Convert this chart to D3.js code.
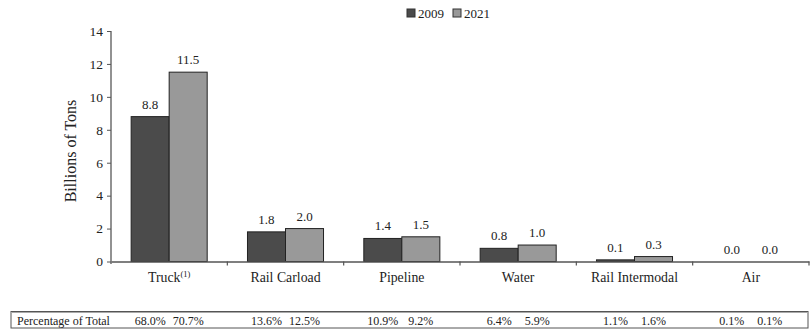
<!DOCTYPE html>
<html><head><meta charset="utf-8">
<script src="https://cdn.jsdelivr.net/npm/d3@7"></script>
<style>body{margin:0;background:#fff}svg{display:block}</style>
</head><body><svg id="c" width="810" height="329" font-family="Liberation Serif"></svg>
<script>
const categories = ["Truck", "Rail Carload", "Pipeline", "Water", "Rail Intermodal", "Air"];
const series = ["2009", "2021"];
const values2009 = [8.8, 1.8, 1.4, 0.8, 0.1, 0.0];
const values2021 = [11.5, 2.0, 1.5, 1.0, 0.3, 0.0];
const pct2009 = ["68.0%", "13.6%", "10.9%", "6.4%", "1.1%", "0.1%"];
const pct2021 = ["70.7%", "12.5%", "9.2%", "5.9%", "1.6%", "0.1%"];
const yTicks = [0, 2, 4, 6, 8, 10, 12, 14];
const colors = ["#4b4b4b", "#999999"];
const FONT = "Liberation Serif";
const INK = "#222";

const svg = d3.select("#c");
const x0 = d3.scaleBand().domain(categories).range([111, 809]).paddingInner(0).paddingOuter(0);
const x1 = d3.scaleBand().domain(series).range([0, x0.bandwidth()]).paddingInner(0).paddingOuter(0.53);
const y = d3.scaleLinear().domain([0, 14]).range([261.5, 31]);
const data = [values2009, values2021];

// y axis
const ya = svg.append("g").attr("transform", "translate(111,0)")
  .call(d3.axisLeft(y).tickValues(yTicks).tickSize(4).tickPadding(4).tickFormat(d3.format("d")));
ya.attr("font-family", FONT).attr("font-size", 13.5);
ya.select(".domain").attr("stroke", "#777").attr("stroke-width", 1.6).attr("d", "M0,31V264");
ya.selectAll(".tick line").attr("stroke", "#555");
ya.selectAll(".tick text").attr("fill", INK);

// bars
categories.forEach((c, i) => {
  series.forEach((s, j) => {
    const v = data[j][i];
    svg.append("rect")
      .attr("x", x0(c) + x1(s)).attr("width", x1.bandwidth())
      .attr("y", y(v)).attr("height", y(0) - y(v))
      .attr("fill", colors[j]).attr("stroke", "#222").attr("stroke-width", 1);
    svg.append("text")
      .attr("x", x0(c) + x1(s) + x1.bandwidth() / 2).attr("y", y(v) - 8)
      .attr("text-anchor", "middle").attr("font-family", FONT).attr("font-size", 13).attr("fill", INK)
      .text(v.toFixed(1));
    svg.append("text")
      .attr("x", x0(c) + x1(s) + x1.bandwidth() / 2).attr("y", 324.5)
      .attr("text-anchor", "middle").attr("font-family", FONT).attr("font-size", 12).attr("fill", INK)
      .text(j === 0 ? pct2009[i] : pct2021[i]);
  });
});

// x axis
const xa = svg.append("g").attr("transform", "translate(0,261.5)")
  .call(d3.axisBottom(x0).tickSize(0).tickPadding(11).tickFormat(() => ""));
xa.select(".domain").attr("stroke", "#555").attr("stroke-width", 1.4);
const bounds = categories.map(c => x0(c)).concat([x0.range()[1]]);
svg.append("g").selectAll("line").data(bounds.slice(1)).join("line")
  .attr("x1", d => d).attr("x2", d => d).attr("y1", 261.5).attr("y2", 265.5)
  .attr("stroke", "#555").attr("stroke-width", 1.2);
categories.forEach(c => {
  const t = svg.append("text").attr("x", x0(c) + x0.bandwidth() / 2).attr("y", 282)
    .attr("text-anchor", "middle").attr("font-family", FONT).attr("font-size", 13.8).attr("fill", INK).text(c);
  if (c === "Truck") t.append("tspan").attr("dy", -5).attr("font-size", 8.5).text("(1)");
});

// y title
svg.append("text").attr("transform", "translate(76,151) rotate(-90)")
  .attr("text-anchor", "middle").attr("font-family", FONT).attr("font-size", 16).attr("fill", INK)
  .text("Billions of Tons");

// legend
const legX = [407, 453];
series.forEach((s, j) => {
  svg.append("rect").attr("x", legX[j]).attr("y", 9).attr("width", 8).attr("height", 8)
    .attr("fill", colors[j]).attr("stroke", "#333").attr("stroke-width", 1);
  svg.append("text").attr("x", legX[j] + 11).attr("y", 17.5).attr("font-family", FONT).attr("font-size", 13)
    .attr("fill", INK).text(s);
});

// table box
svg.append("rect").attr("x", 11).attr("y", 311.5).attr("width", 797).attr("height", 16.5)
  .attr("fill", "none").attr("stroke", "#555").attr("stroke-width", 1);
svg.append("line").attr("x1", 11).attr("x2", 808).attr("y1", 312.5).attr("y2", 312.5)
  .attr("stroke", "#aaa").attr("stroke-width", 1);
svg.append("text").attr("x", 17).attr("y", 324.5).attr("font-family", FONT).attr("font-size", 12)
  .attr("fill", INK).text("Percentage of Total");
</script></body></html>
